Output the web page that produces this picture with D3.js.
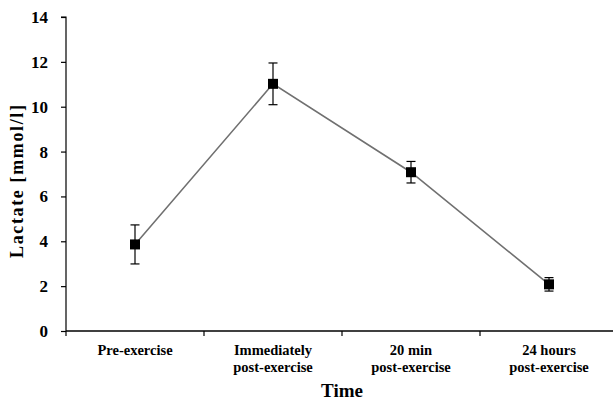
<!DOCTYPE html>
<html><head><meta charset="utf-8">
<script src="https://cdn.jsdelivr.net/npm/d3@7"></script>
<style>body{margin:0;background:#fff;overflow:hidden}svg{display:block}text{font-family:"Liberation Serif","Times New Roman",serif;font-weight:bold}</style>
</head><body>
<svg id="c" width="613" height="401"></svg>
<script>
const categories = ["Pre-exercise", "Immediately\npost-exercise", "20 min\npost-exercise", "24 hours\npost-exercise"];
const values = [3.86, 11.02, 7.08, 2.08];
const errors = [0.87, 0.93, 0.48, 0.30];
const yTicks = [0, 2, 4, 6, 8, 10, 12, 14];

(function () {
const svg = d3.select("#c");
const mL = 66, mR = 618, mT = 17, mB = 331;

const y = d3.scaleLinear().domain([0, 14]).range([mB, mT]);
const xBand = d3.scaleBand().domain(categories).range([mL, mR]);
const cx = c => xBand(c) + xBand.bandwidth() / 2;

// Y axis
const ya = svg.append("g").attr("transform", `translate(${mL},0)`)
  .call(d3.axisLeft(y).tickValues(yTicks).tickSize(5).tickPadding(13).tickFormat(d3.format("d")));
ya.select(".domain").attr("stroke", "#000").attr("stroke-width", 1.2).attr("d", `M-5,${mT}H0V${mB}`);
ya.selectAll(".tick line").attr("stroke", "#000").attr("stroke-width", 1.2);
ya.selectAll(".tick text").attr("font-size", 17).attr("fill", "#000")
  .style("font-family", '"Liberation Serif",serif').style("font-weight", "bold");

// X axis
const xa = svg.append("g").attr("transform", `translate(0,${mB})`);
xa.append("line").attr("x1", mL).attr("x2", mR).attr("stroke", "#000").attr("stroke-width", 1.4);
const bounds = categories.map(c => xBand(c)).concat([mR]);
xa.selectAll("line.tk").data(bounds).join("line").attr("class", "tk")
  .attr("x1", d => d).attr("x2", d => d).attr("y1", 0).attr("y2", 5)
  .attr("stroke", "#000").attr("stroke-width", 1.2);
categories.forEach(c => {
  const t = xa.append("text").attr("text-anchor", "middle").attr("font-size", 14.5)
    .attr("transform", `translate(${cx(c)},24)`).attr("fill", "#000");
  c.split("\n").forEach((l, i) => t.append("tspan").attr("x", 0).attr("y", i * 16.6).text(l));
});

// Line
svg.append("path").datum(values.map((v, i) => [categories[i], v]))
  .attr("fill", "none").attr("stroke", "#707070").attr("stroke-width", 1.6)
  .attr("d", d3.line().x(d => cx(d[0])).y(d => y(d[1])));

// Error bars
const eb = svg.append("g").attr("stroke", "#000").attr("stroke-width", 1.2);
values.forEach((v, i) => {
  const px = cx(categories[i]);
  eb.append("line").attr("x1", px).attr("x2", px).attr("y1", y(v + errors[i])).attr("y2", y(v - errors[i]));
  [v + errors[i], v - errors[i]].forEach(e =>
    eb.append("line").attr("x1", px - 4.5).attr("x2", px + 4.5).attr("y1", y(e)).attr("y2", y(e)));
});

// Markers
svg.append("g").selectAll("rect").data(values).join("rect")
  .attr("x", (d, i) => cx(categories[i]) - 5).attr("y", d => y(d) - 5)
  .attr("width", 10).attr("height", 10).attr("fill", "#000");

// Axis titles
svg.append("text").attr("text-anchor", "middle").attr("font-size", 18)
  .attr("textLength", 153).attr("lengthAdjust", "spacing")
  .attr("transform", `translate(23,181.5) rotate(-90)`).text("Lactate [mmol/l]");
svg.append("text").attr("text-anchor", "middle").attr("font-size", 19)
  .attr("x", 342).attr("y", 397).text("Time");
})();
</script>
</body></html>
